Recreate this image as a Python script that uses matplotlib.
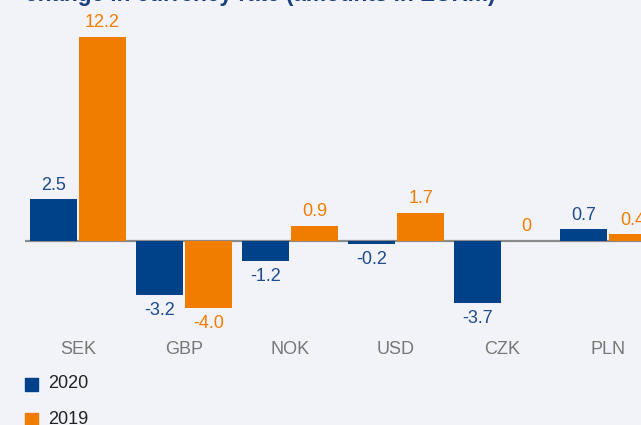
import numpy as np
import matplotlib
matplotlib.use("Agg")
import matplotlib.pyplot as plt

currencies = ["SEK", "GBP", "NOK", "USD", "CZK", "PLN"]
vals_2020 = [2.5, -3.2, -1.2, -0.2, -3.7, 0.7]
vals_2019 = [12.2, -4.0, 0.9, 1.7, 0.0, 0.4]
labels_2020 = ["2.5", "-3.2", "-1.2", "-0.2", "-3.7", "0.7"]
labels_2019 = ["12.2", "-4.0", "0.9", "1.7", "0", "0.4"]

blue = "#00428a"
orange = "#f07c00"
bg = "#f2f3f8"

plt.rcParams['font.family'] = ['Liberation Sans', 'DejaVu Sans']

fig = plt.figure(figsize=(6.41, 4.25), dpi=100, facecolor=bg)
# axes run past the right edge so the last group is clipped
ax = fig.add_axes([25 / 641, 1 - 330 / 425, 636 / 641, 310 / 425])
ax.set_facecolor(bg)

x = np.arange(len(currencies))
w = 0.435
b1 = ax.bar(x - w / 2 - 0.014, vals_2020, w, color=blue, zorder=2)
b2 = ax.bar(x + w / 2 + 0.014, vals_2019, w, color=orange, zorder=2)

ax.axhline(0, color="#8c8c8c", lw=1.6, zorder=1)

for bars, labs, col in ((b1, labels_2020, "#1d4b8f"), (b2, labels_2019, orange)):
    for bar, lab in zip(bars, labs):
        v = bar.get_height()
        cx = bar.get_x() + bar.get_width() / 2
        if v >= 0:
            ax.annotate(lab, (cx, v), xytext=(0, 4), textcoords="offset points",
                        ha="center", va="bottom", color=col, fontsize=13, clip_on=False)
        else:
            ax.annotate(lab, (cx, v), xytext=(0, -5), textcoords="offset points",
                        ha="center", va="top", color=col, fontsize=13, clip_on=False)

ax.set_xlim(-0.5, 5.5)
ax.set_ylim(-(330 - 241) / 16.75, (241 - 20) / 16.75)
ax.set_xticks(x)
ax.set_xticklabels(currencies, fontsize=13, color="#777777")
ax.tick_params(axis="x", length=0, pad=8)
ax.set_yticks([])
for s in ax.spines.values():
    s.set_visible(False)

# legend drawn as squares + text below the axis
for i, (name, col) in enumerate((("2020", blue), ("2019", orange))):
    yc = 1 - (384 + i * 35) / 425
    fig.patches.append(plt.Rectangle((25 / 641, yc - 6.5 / 425), 13 / 641, 13 / 425,
                                     transform=fig.transFigure, color=col))
    fig.text(48 / 641, yc, name, fontsize=13, color="#222222", va="center", ha="left")

fig.text(25 / 641, 1 - 1 / 425, "change in currency rate (amounts in EURm)",
         fontsize=16.3, fontweight="bold", color="#1a3f7f", va="baseline", ha="left")

fig.savefig("out.png", dpi=100, facecolor=bg)
